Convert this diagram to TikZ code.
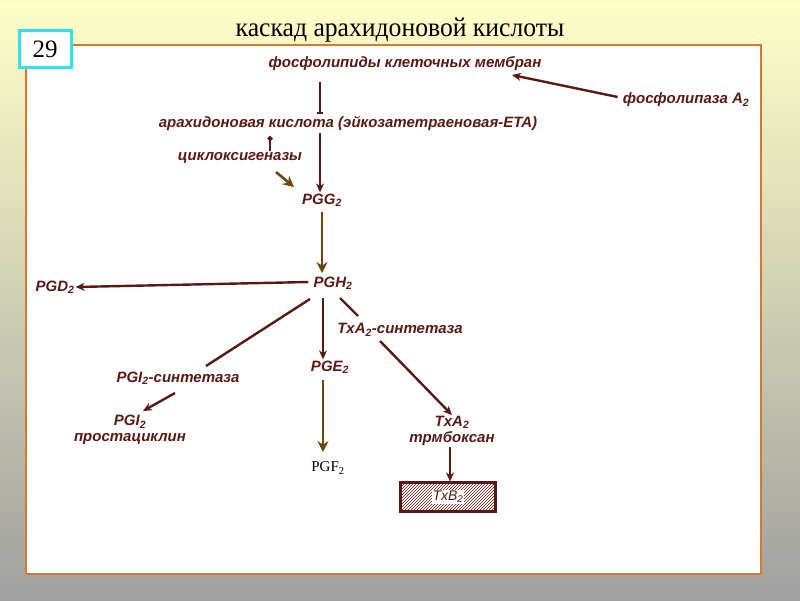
\documentclass[tikz,border=0pt]{standalone}
\usepackage{fontspec}
\setmainfont{Liberation Serif}
\newfontfamily\dsans{Liberation Sans}
\usetikzlibrary{arrows.meta,patterns}
\definecolor{br}{HTML}{5A1A14}
\definecolor{ol}{HTML}{6B4A10}
\definecolor{orb}{HTML}{D9782D}
\definecolor{cy}{HTML}{33E0F0}
\newcommand{\sbt}[1]{\textsubscript{#1}}
\tikzset{
 lbl/.style={font=\dsans\bfseries\itshape\fontsize{15}{16}\selectfont, text=br, inner sep=1pt, align=center},
 ln/.style={draw=br, line width=2.4pt},
 ar/.style={ln, -{Stealth[length=9pt,width=8pt]}},
 oar/.style={draw=ol, line width=2.6pt, -{Stealth[length=11pt,width=11pt]}}
}
\begin{document}
\begin{tikzpicture}[x=1pt,y=-1pt]
\shade[top color={rgb,255:red,255;green,255;blue,200}, bottom color={rgb,255:red,160;green,160;blue,160}] (0,0) rectangle (800,600);
\useasboundingbox (0,0) rectangle (800,600);
\fill[white] (26,45) rectangle (761,574);
\draw[orb, line width=2pt] (26,45) rectangle (761,574);
\node[draw=cy, line width=3pt, fill=white, minimum width=52pt, minimum height=37pt, font=\fontsize{25}{27}\selectfont] (num) at (45,49) {29};
\node[font=\fontsize{27}{30}\selectfont, xscale=0.95] (title) at (400,30) {каскад арахидоновой кислоты};

\node[lbl] (pl) at (405,64) {фосфолипиды клеточных мембран};
\node[lbl] (pla) at (686,100) {фосфолипаза A\sbt{2}};
\node[lbl] (aa) at (348,123) {арахидоновая кислота (эйкозатетраеновая-ETA)};
\node[lbl] (cox) at (240,158) {циклоксигеназы};
\node[lbl] (pgg) at (322,200) {PGG\sbt{2}};
\node[lbl] (pgh) at (333,283) {PGH\sbt{2}};
\node[lbl] (pgd) at (55,287) {PGD\sbt{2}};
\node[lbl] (txs) at (400,330) {TxA\sbt{2}-синтетаза};
\node[lbl] (pge) at (330,367) {PGE\sbt{2}};
\node[lbl] (pgis) at (178,378) {PGI\sbt{2}-синтетаза};
\node[lbl] (pgi) at (130,430) {PGI\sbt{2}\\простациклин};
\node[font=\fontsize{15}{17}\selectfont] (pgf) at (328,468) {PGF\sbt{2}};
\node[lbl] (tx) at (452,431) {TxA\sbt{2}\\трмбоксан};
\node[draw=br, line width=2.2pt, pattern=north east lines, pattern color=br, minimum width=95pt, minimum height=29pt] (txb) at (448,497) {};
\node[lbl, fill=white, font=\dsans\itshape\fontsize{14}{15}\selectfont] (txbl) at (txb) {TxB\sbt{2}};

\coordinate (a1) at (320,82);
\coordinate (a2) at (320,114);
\draw[ln, -{Bar[width=6pt]}] (a1) -- (a2);
\draw[ar] (pla.west) ++(-4,-3) -- (512,75);
\draw[ln, -{Circle[length=5pt]}] (cox.north -| 270,0) -- (270,136);
\draw[oar] (276,172) -- (294,187);
\draw[ar] (320,133) -- (pgg.north -| 320,0);
\draw[oar] (pgg.south -| 322,0) ++(0,4) -- (322,273);
\draw[ar] (pgh.west) ++(-4,-1) -- (pgd.east);
\draw[ln] (310,299) -- (206,366);
\draw[ar] (175,393) -- (143,411);
\draw[ar] (323,298) -- (pge.north -| 323,0);
\draw[oar] (323,380) -- (323,452);
\draw[ln] (340,298) -- (358,316);
\draw[ar] (380,341) -- (tx.north);
\draw[ar] (tx.south -| 450,0) -- (txb.north -| 450,0);
\end{tikzpicture}
\end{document}
